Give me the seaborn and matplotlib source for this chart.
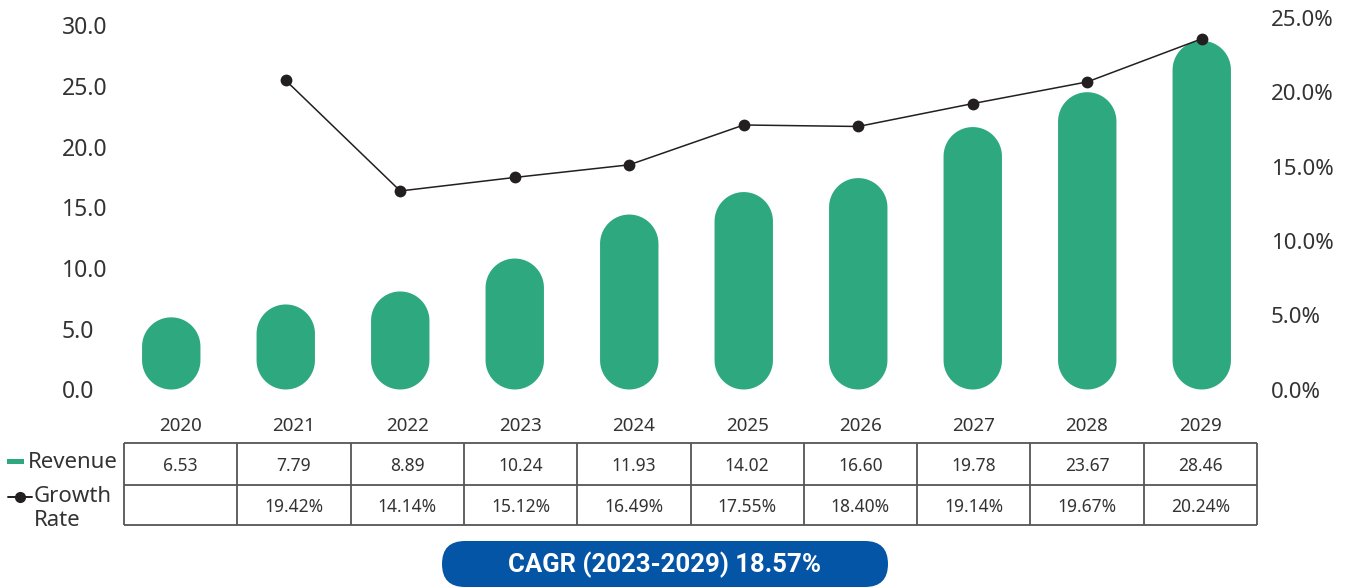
import numpy as np
import pandas as pd
import matplotlib.pyplot as plt
import seaborn as sns
from matplotlib.patches import FancyBboxPatch, Rectangle, Polygon

# data
years = ['2020', '2021', '2022', '2023', '2024', '2025', '2026', '2027', '2028', '2029']
revenue = ['6.53', '7.79', '8.89', '10.24', '11.93', '14.02', '16.60', '19.78', '23.67', '28.46']
growth = ['', '19.42%', '14.14%', '15.12%', '16.49%', '17.55%', '18.40%', '19.14%', '19.67%', '20.24%']
# heights of the drawn pills (left axis) and of the drawn growth points (right axis, %)
bar_level = [5.94, 7.0, 8.07, 10.78, 14.4, 16.25, 17.4, 21.6, 24.47, 28.7]
line_level = [np.nan, 20.8, 13.36, 14.27, 15.12, 17.8, 17.7, 19.24, 20.7, 23.6]
left_ticks = [0, 5, 10, 15, 20, 25, 30]
right_ticks = [0, 5, 10, 15, 20, 25]
cagr_label = 'CAGR (2023-2029) 18.57%'

GREEN = '#2ea87e'
BLUE = '#0455a6'
INK = '#231f20'
TXT = '#333333'
W, H = 1349, 587

sns.set_style('white')
plt.rcParams['font.family'] = ['Noto Sans', 'DejaVu Sans']


def box(x0, y0, x1, y1):
    # pixel box (from top-left) -> figure fraction rect
    return [x0 / W, 1 - y1 / H, (x1 - x0) / W, (y1 - y0) / H]


def pill(x, w, h, aspect, n=40):
    # rectangle with semicircular ends, round in pixel space
    rx = w / 2
    ry = rx * aspect
    xc = x + rx
    t = np.linspace(0, np.pi, n)
    top = np.column_stack([xc + rx * np.cos(t), h - ry + ry * np.sin(t)])
    bot = np.column_stack([xc - rx * np.cos(t), ry - ry * np.sin(t)])
    return np.vstack([top, bot])


fig = plt.figure(figsize=(W / 100, H / 100), dpi=100)

# --- main chart ---
ax = fig.add_axes(box(114, 18, 1259, 389.5))
df = pd.DataFrame({'year': years, 'level': bar_level})
sns.barplot(data=df, x='year', y='level', color=GREEN, saturation=1, width=0.51, ax=ax)
ax.set_xlim(-0.5, 9.5)
ax.set_ylim(0, 30 * 371.5 / 364.5)

# turn the rectangles into pills
px_per_x = (1259 - 114) / 10.0
px_per_y = 371.5 / ax.get_ylim()[1]
aspect = px_per_x / px_per_y
for p in list(ax.patches):
    x, w, h = p.get_x(), p.get_width(), p.get_height()
    p.remove()
    ax.add_patch(Polygon(pill(x, w, h, aspect), closed=True, fc=GREEN, ec='none', lw=0))

ax.set_xticks([])
ax.set_xlabel('')
ax.set_ylabel('')
ax.set_yticks(left_ticks)
ax.set_yticklabels([f'{v:.1f}' for v in left_ticks], ha='left', color=TXT, fontsize=16.5)
ax.tick_params(axis='y', length=0, pad=37.4)
sns.despine(ax=ax, left=True, bottom=True)

ax2 = ax.twinx()
sns.lineplot(x=np.arange(len(years)), y=line_level, ax=ax2, color=INK, lw=1.1,
             marker='o', markersize=8.5, markeredgewidth=0)
ax2.set_ylim(0, 25.0)
ax2.set_yticks(right_ticks)
ax2.set_yticklabels([f'{v:.1f}%' for v in right_ticks], color=TXT, fontsize=16)
ax2.tick_params(axis='y', length=0, pad=8.5)
ax2.set_ylabel('')
for s in ax2.spines.values():
    s.set_visible(False)
ax2.grid(False)

# --- table, legend and CAGR badge in pixel space ---
ov = fig.add_axes([0, 0, 1, 1], zorder=5)
ov.set_xlim(0, W)
ov.set_ylim(H, 0)
ov.axis('off')
ov.patch.set_alpha(0)

tx0, tx1, ty0, ty1, tym = 124, 1257, 443, 525, 485
cols = np.linspace(tx0, tx1, len(years) + 1)
centers = (cols[:-1] + cols[1:]) / 2
ov.hlines([ty0, tym, ty1], tx0, tx1, color='#555555', lw=1.3)
ov.vlines(cols, ty0, ty1, color='#555555', lw=1.3)
for cx, yr, rv, gr in zip(centers, years, revenue, growth):
    ov.text(cx, 426, yr, ha='center', va='center', fontsize=13.5, color=TXT)
    ov.text(cx, 466, rv, ha='center', va='center', fontsize=12.5, color=TXT)
    ov.text(cx, 507, gr, ha='center', va='center', fontsize=12.5, color=TXT)

ov.add_patch(Rectangle((7, 459), 17, 4.5, fc=GREEN, ec='none'))
ov.text(28, 462, 'Revenue', ha='left', va='center', fontsize=16, color=TXT)
ov.plot([8, 32], [497, 497], color=INK, lw=1.4)
ov.plot([20], [497], marker='o', color=INK, markersize=7)
ov.text(34, 496, 'Growth', ha='left', va='center', fontsize=16, color=TXT)
ov.text(34, 520, 'Rate', ha='left', va='center', fontsize=16, color=TXT)

ov.add_patch(FancyBboxPatch((442, 541), 446, 46, boxstyle='round,pad=0,rounding_size=23',
                            fc=BLUE, ec='none'))
ov.text(665, 565, cagr_label, ha='center', va='center', fontsize=18.5,
        fontweight='bold', family=['Roboto', 'DejaVu Sans'], color='white')

fig.savefig('out.png', dpi=100)
